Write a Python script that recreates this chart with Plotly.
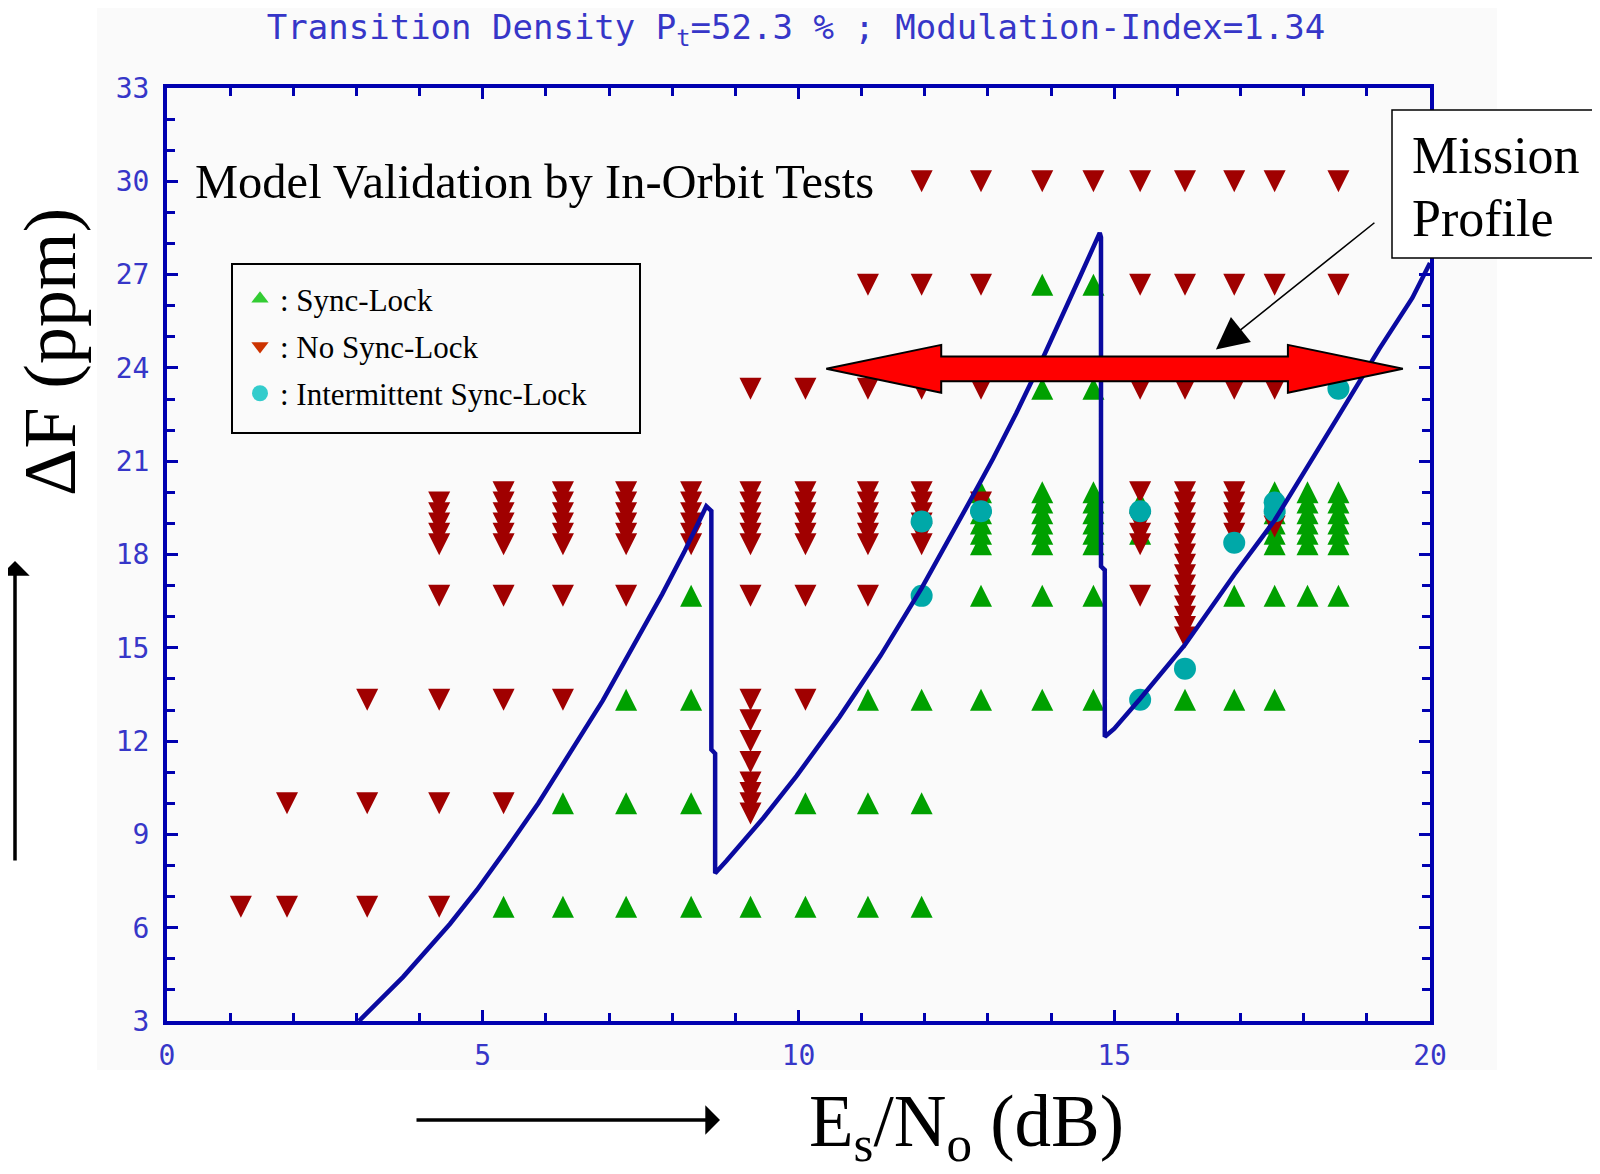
import plotly.graph_objects as go

# ---------------- data ----------------
X_RANGE = [0, 20]
Y_RANGE = [3, 33]
x_tickvals = [0, 5, 10, 15, 20]
y_tickvals = [3, 6, 9, 12, 15, 18, 21, 24, 27, 30, 33]

# closely spaced test frequencies (ppm) used around 18-20 ppm
dense_y = [18.33, 18.67, 19.0, 19.33, 19.67, 20.0]

# Sync-Lock: Es/No column -> frequency offsets (ppm)
sync_cols = {
    5.33: [6.67],
    6.27: [6.67, 10.0],
    7.27: [6.67, 10.0, 13.33],
    8.30: [6.67, 10.0, 13.33, 16.67],
    9.24: [6.67],
    10.11: [6.67, 10.0],
    11.10: [6.67, 10.0, 13.33],
    11.95: [6.67, 10.0, 13.33],
    12.89: [13.33, 16.67] + dense_y,
    13.86: [13.33, 16.67, 23.33, 26.67] + dense_y,
    14.67: [13.33, 16.67, 23.33, 26.67] + dense_y,
    15.41: [18.67, 19.67],
    16.12: [13.33],
    16.90: [13.33, 16.67],
    17.54: [13.33, 16.67] + dense_y,
    18.06: [16.67] + dense_y,
    18.55: [16.67] + dense_y,
}

# No Sync-Lock
nolock_cols = {
    1.17: [6.67],
    1.90: [6.67, 10.0],
    3.17: [6.67, 10.0, 13.33],
    4.31: [6.67, 10.0, 13.33, 16.67, 18.33, 18.67, 19.0, 19.33, 19.67],
    5.33: [10.0, 13.33, 16.67] + dense_y,
    6.27: [13.33, 16.67] + dense_y,
    7.27: [16.67] + dense_y,
    8.30: dense_y,
    9.24: [9.67, 10.0, 10.33, 10.67, 11.33, 12.0, 12.67, 13.33, 16.67] + dense_y + [23.33],
    10.11: [13.33, 16.67] + dense_y + [23.33],
    11.10: [16.67] + dense_y + [23.33, 26.67],
    11.95: dense_y + [23.33, 26.67, 30.0],
    12.89: [19.67, 23.33, 26.67, 30.0],
    13.86: [30.0],
    14.67: [30.0],
    15.41: [16.67, 18.33, 18.67, 19.0, 20.0, 23.33, 26.67, 30.0],
    16.12: [15.33, 15.67, 16.0, 16.33, 16.67, 17.0, 17.33, 17.67, 18.0,
            18.33, 18.67, 19.0, 19.33, 19.67, 20.0, 23.33, 26.67, 30.0],
    16.90: [18.67, 19.0, 19.33, 19.67, 20.0, 23.33, 26.67, 30.0],
    17.54: [18.9, 23.33, 26.67, 30.0],
    18.55: [26.67, 30.0],
}

# Intermittent Sync-Lock
inter_x = [11.95, 11.95, 12.89, 15.41, 15.41, 16.12, 16.90, 17.54, 17.54, 18.55]
inter_y = [16.67, 19.06, 19.39, 19.39, 13.33, 14.33, 18.38, 19.39, 19.67, 23.33]

# model curve (acquisition boundary)
curve_x = [3.04, 3.74, 4.48, 4.91, 5.40, 5.88, 6.90, 7.84, 8.20, 8.54, 8.62, 8.62, 8.68, 8.68,
           8.86, 9.44, 9.97, 10.65, 11.30, 11.95, 12.71, 13.08, 13.45, 13.87, 14.45, 14.77,
           14.79, 14.79, 14.85, 14.85, 15.00, 15.41, 16.12, 16.90, 17.54, 18.09, 18.55,
           19.20, 19.72, 20.0]
curve_y = [3.0, 4.42, 6.12, 7.22, 8.60, 10.0, 13.3, 16.72, 18.12, 19.55, 19.40, 11.73, 11.60, 7.75,
           8.15, 9.52, 10.88, 12.78, 14.75, 16.92, 19.70, 21.08, 22.55, 24.32, 26.90, 28.34,
           28.20, 17.62, 17.50, 12.14, 12.40, 13.36, 15.10, 17.35, 19.10, 20.90, 22.45,
           24.62, 26.25, 27.37]

# mission profile double arrow (Es/No span, ppm level)
mission_x = [10.44, 19.57]
mission_y = 23.97

# ---------------- layout constants ----------------
OFF = 8                                   # default page margin of the html body
PAGE_W, PAGE_H = 1600, 1174
W, H = PAGE_W - OFF, PAGE_H - OFF         # figure size
PL, PR, PT, PB = 167, 1430, 88, 1021      # plot area on the page (px)
ML, MT = PL - OFF, PT - OFF
MR, MB = PAGE_W - PR, PAGE_H - PB
PW, PH = PR - PL, PB - PT
PPU_Y = PH / (Y_RANGE[1] - Y_RANGE[0])
MS = 22                       # marker size (px)
D = (MS / 2) / PPU_Y          # half marker height in data units

AX_BLUE = "#0000b0"
TXT_BLUE = "#3636c8"
GREEN, RED, CYAN = "#00a000", "#a00000", "#00a8a8"
SERIF = "Liberation Serif"
MONO = "DejaVu Sans Mono"


def px_x(p):
    return (p - PL) / PW


def px_y(p):
    return (PB - p) / PH


def flatten(cols):
    xs, ys = [], []
    for x, yl in cols.items():
        for y in yl:
            xs.append(x)
            ys.append(y)
    return xs, ys


sx, sy = flatten(sync_cols)
nx, ny = flatten(nolock_cols)

fig = go.Figure()

# legend entries
fig.add_trace(go.Scatter(x=[None], y=[None], mode="markers", name=": Sync-Lock",
                         legendgroup="a",
                         marker=dict(symbol="triangle-up", size=15, color="#33cc33")))
fig.add_trace(go.Scatter(x=[None], y=[None], mode="markers", name=": No Sync-Lock",
                         legendgroup="b",
                         marker=dict(symbol="triangle-down", size=15, color="#cc3300")))
fig.add_trace(go.Scatter(x=[None], y=[None], mode="markers", name=": Intermittent Sync-Lock",
                         legendgroup="c",
                         marker=dict(symbol="circle", size=16, color="#33cccc")))

# data markers (triangles drawn on offset axes so that each mark is centred on its value)
fig.add_trace(go.Scatter(x=sx, y=sy, mode="markers", yaxis="y2", showlegend=False,
                         marker=dict(symbol="arrow-up", size=MS, color=GREEN, line=dict(width=0))))
fig.add_trace(go.Scatter(x=nx, y=ny, mode="markers", yaxis="y3", showlegend=False,
                         marker=dict(symbol="arrow-down", size=MS, color=RED, line=dict(width=0))))
fig.add_trace(go.Scatter(x=inter_x, y=inter_y, mode="markers", yaxis="y4", showlegend=False,
                         marker=dict(symbol="circle", size=MS, color=CYAN, line=dict(width=0))))
fig.add_trace(go.Scatter(x=curve_x, y=curve_y, mode="lines", yaxis="y4", showlegend=False,
                         line=dict(color="#0a0aa0", width=4.5)))

axis_common = dict(showline=True, linecolor=AX_BLUE, linewidth=4, mirror="ticks",
                   ticks="inside", tickcolor=AX_BLUE, tickwidth=2.5, ticklen=11,
                   showgrid=False, zeroline=False, fixedrange=True,
                   tickfont=dict(family=MONO, size=28, color=TXT_BLUE))

fig.update_layout(
    width=W, height=H, autosize=False,
    margin=dict(l=ML, r=MR, t=MT, b=MB),
    paper_bgcolor="white", plot_bgcolor="#fafafa",
    title=dict(text="Transition Density P<sub>t</sub>=52.3 % ; Modulation-Index=1.34",
               x=(796 - OFF) / W, xanchor="center", y=1 - (27 - OFF) / H, yanchor="middle",
               font=dict(family=MONO, size=34, color=TXT_BLUE)),
    xaxis=dict(range=X_RANGE, tickvals=x_tickvals, ticklabelstandoff=6,
               minor=dict(dtick=1, tick0=0, ticks="inside", ticklen=8, tickwidth=2.5,
                          tickcolor=AX_BLUE),
               **axis_common),
    yaxis=dict(range=Y_RANGE, tickvals=y_tickvals, ticklabelstandoff=8,
               minor=dict(dtick=1, tick0=0, ticks="inside", ticklen=8, tickwidth=2.5,
                          tickcolor=AX_BLUE),
               **axis_common),
    yaxis2=dict(range=[Y_RANGE[0] - D, Y_RANGE[1] - D], overlaying="y", anchor="x",
                visible=False, fixedrange=True),
    yaxis3=dict(range=[Y_RANGE[0] + D, Y_RANGE[1] + D], overlaying="y", anchor="x",
                visible=False, fixedrange=True),
    yaxis4=dict(range=Y_RANGE, overlaying="y", anchor="x", visible=False, fixedrange=True),
    showlegend=True,
    legend=dict(x=px_x(240), y=px_y(272), xanchor="left", yanchor="top",
                bgcolor="rgba(0,0,0,0)", borderwidth=0, tracegroupgap=4,
                font=dict(family=SERIF, size=31, color="black")),
)

# background of the original chart panel
fig.add_shape(type="rect", xref="paper", yref="paper", layer="below",
              x0=px_x(97), x1=px_x(1497), y0=px_y(1070), y1=px_y(OFF),
              fillcolor="#fafafa", line=dict(width=0))

# legend box
fig.add_shape(type="rect", xref="paper", yref="paper", layer="above",
              x0=px_x(232), x1=px_x(640), y0=px_y(433), y1=px_y(264),
              fillcolor="rgba(255,255,255,0)", line=dict(color="black", width=2))

# mission profile double arrow
xl, xr = mission_x
hl, hh, sh, yc = 1.82, 0.77, 0.40, mission_y
path = (f"M{xl},{yc} L{xl+hl},{yc+hh} L{xl+hl},{yc+sh} L{xr-hl},{yc+sh} "
        f"L{xr-hl},{yc+hh} L{xr},{yc} L{xr-hl},{yc-hh} L{xr-hl},{yc-sh} "
        f"L{xl+hl},{yc-sh} L{xl+hl},{yc-hh} Z")
fig.add_shape(type="path", path=path, xref="x", yref="y", layer="above",
              fillcolor="#ff0000", line=dict(color="black", width=2))

# Mission profile box
fig.add_shape(type="rect", xref="paper", yref="paper", layer="above",
              x0=px_x(1392), x1=px_x(1610), y0=px_y(258), y1=px_y(110),
              fillcolor="white", line=dict(color="black", width=1.5))

ann = []
ann.append(dict(text="Mission", xref="paper", yref="paper", x=px_x(1410), y=px_y(155),
                xanchor="left", yanchor="middle", showarrow=False,
                font=dict(family=SERIF, size=52, color="black")))
ann.append(dict(text="Profile", xref="paper", yref="paper", x=px_x(1410), y=px_y(218),
                xanchor="left", yanchor="middle", showarrow=False,
                font=dict(family=SERIF, size=52, color="black")))
# leader line to the double arrow
ann.append(dict(text="", xref="x", yref="y", x=16.61, y=24.59, ax=160, ay=-128,
                showarrow=True, arrowhead=2, arrowsize=4, arrowwidth=1.6,
                arrowcolor="black", standoff=0))
ann.append(dict(text="Model Validation by In-Orbit Tests", xref="paper", yref="paper",
                x=px_x(193), y=px_y(182), xanchor="left", yanchor="middle",
                showarrow=False, font=dict(family=SERIF, size=48.5, color="black")))
# axis titles
ann.append(dict(text="ΔF (ppm)", xref="paper", yref="paper", x=px_x(50), y=px_y(352),
                textangle=-90, xanchor="center", yanchor="middle", showarrow=False,
                font=dict(family=SERIF, size=74, color="black")))
ann.append(dict(text="E<sub>s</sub>/N<sub>o</sub> (dB)", xref="paper", yref="paper",
                x=px_x(966), y=px_y(1126), xanchor="center", yanchor="middle",
                showarrow=False, font=dict(family=SERIF, size=73, color="black")))
# direction arrows next to axis titles
ann.append(dict(text="", xref="paper", yref="paper", x=px_x(720), y=px_y(1120),
                ax=-305, ay=0, showarrow=True, arrowhead=1, arrowsize=1.4,
                arrowwidth=3.5, arrowcolor="black", standoff=0))
ann.append(dict(text="", xref="paper", yref="paper", x=px_x(15), y=px_y(561),
                ax=0, ay=301, showarrow=True, arrowhead=1, arrowsize=1.4,
                arrowwidth=3.5, arrowcolor="black", standoff=0))
fig.update_layout(annotations=ann)

fig.write_html("out.html")
